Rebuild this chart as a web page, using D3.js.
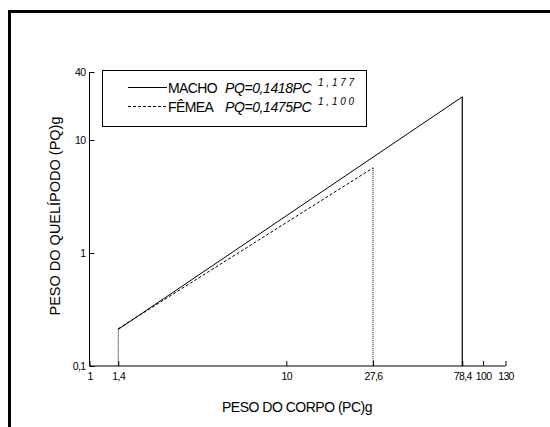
<!DOCTYPE html>
<html>
<head>
<meta charset="utf-8">
<script src="https://cdn.jsdelivr.net/npm/d3@7"></script>
<style>
  body { margin: 0; background: #fff; }
  svg { display: block; font-family: "Liberation Sans", Arial, sans-serif; }
</style>
</head>
<body>
<div id="chart"></div>
<script>
// data
const groups = ['MACHO', 'FÊMEA']
const coefs = ['0,1418', '0,1475']
const expos = ['1 , 1 7 7', '1 , 1 0 0']
const pcStart = [1.4, 1.4]
const pcEnd = [78.4, 27.6]
const pqStart = [0.211, 0.214]
const pqEnd = [24.1, 5.67]

const xTicks = [1, 1.4, 10, 27.6, 78.4, 100, 130]
const xMinor = [2, 3, 4, 5, 6, 7, 8, 9, 20, 30, 40, 50, 60, 70, 80, 90]
const yTicks = [0.1, 1, 10, 40]
const yMinor = [0.2, 0.3, 0.4, 0.5, 0.6, 0.7, 0.8, 0.9, 2, 3, 4, 5, 6, 7, 8, 9, 20, 30]

const W = 550, H = 427
const fmt = d => String(d).replace('.', ',')

const svg = d3.select('#chart').append('svg')
    .attr('width', W).attr('height', H)

// outer frame (left and top only)
svg.append('path')
    .attr('d', `M9.5,${H} V11.5 H${W}`)
    .attr('fill', 'none').attr('stroke', '#000').attr('stroke-width', 3)

const x = d3.scaleLog().domain([1, 130]).range([89.5, 505.5])
const y = d3.scaleLog().domain([0.1, 40]).range([366, 72])

const gx = svg.append('g').attr('transform', `translate(0,${y(0.1)})`)
gx.call(d3.axisBottom(x).tickValues(xMinor).tickSize(-3).tickFormat(''))
gx.call(d3.axisBottom(x).tickValues(xTicks).tickSize(-5).tickFormat(fmt).tickPadding(7))
gx.select('.domain').remove()
gx.append('line').attr('x1', x(1)).attr('x2', x(130)).attr('stroke', '#000')

const gy = svg.append('g').attr('transform', `translate(${x(1)},0)`)
gy.call(d3.axisLeft(y).tickValues(yMinor).tickSize(-3).tickFormat(''))
gy.call(d3.axisLeft(y).tickValues(yTicks).tickSize(-5).tickFormat(fmt).tickPadding(4))
gy.select('.domain').remove()
gy.append('line').attr('y1', y(0.1)).attr('y2', y(40)).attr('stroke', '#000')

svg.selectAll('.tick text')
    .attr('font-size', 10.5).attr('fill', '#000').attr('letter-spacing', -0.6)
    .attr('font-family', '"Liberation Sans", Arial, sans-serif')
svg.selectAll('.tick line').attr('stroke', '#000')

// axis titles
svg.append('text')
    .attr('x', 297).attr('y', 412)
    .attr('text-anchor', 'middle').attr('font-size', 14).attr('letter-spacing', -0.5)
    .text('PESO DO CORPO (PC)g')

svg.append('text')
    .attr('transform', 'translate(60,216) rotate(-90)')
    .attr('text-anchor', 'middle').attr('font-size', 14.5)
    .text('PESO DO QUELÍPODO (PQ)g')

// fitted lines
const dash = ['none', '3,2']
groups.forEach((g, i) => {
    svg.append('line')
        .attr('x1', x(pcStart[i])).attr('y1', y(pqStart[i]))
        .attr('x2', x(pcEnd[i])).attr('y2', y(pqEnd[i]))
        .attr('stroke', '#000').attr('stroke-width', 1)
        .attr('stroke-dasharray', dash[i])
    // drop line at the end of the range
    svg.append('line')
        .attr('x1', x(pcEnd[i])).attr('y1', y(pqEnd[i]))
        .attr('x2', x(pcEnd[i])).attr('y2', y(0.1))
        .attr('stroke', '#000').attr('stroke-width', i === 0 ? 1.2 : 1)
        .attr('stroke-dasharray', i === 0 ? 'none' : '1,1')
})
// drop line at the start of the range
svg.append('line')
    .attr('x1', x(pcStart[0])).attr('y1', y(pqStart[0]))
    .attr('x2', x(pcStart[0])).attr('y2', y(0.1))
    .attr('stroke', '#000').attr('stroke-dasharray', '1,1')

// legend
const leg = svg.append('g')
leg.append('rect')
    .attr('x', 102.5).attr('y', 70.5).attr('width', 264).attr('height', 56)
    .attr('fill', '#fff').attr('stroke', '#000')
groups.forEach((g, i) => {
    const ly = 87.5 + i * 19
    leg.append('line')
        .attr('x1', 128).attr('x2', 167).attr('y1', ly).attr('y2', ly)
        .attr('stroke', '#000').attr('stroke-dasharray', dash[i])
    leg.append('text')
        .attr('x', 168).attr('y', ly + 5)
        .attr('font-size', 14).attr('letter-spacing', -0.6)
        .text(g)
    leg.append('text')
        .attr('x', 225).attr('y', ly + 5)
        .attr('font-size', 14).attr('letter-spacing', -0.4).attr('font-style', 'italic')
        .text('PQ=' + coefs[i] + 'PC')
    leg.append('text')
        .attr('x', 318).attr('y', ly - 2)
        .attr('font-size', 10).attr('font-style', 'italic')
        .text(expos[i])
})
</script>
</body>
</html>
